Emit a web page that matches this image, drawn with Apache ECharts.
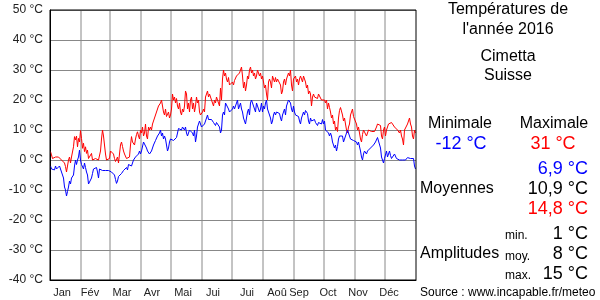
<!DOCTYPE html>
<html>
<head>
<meta charset="utf-8">
<script src="https://cdn.jsdelivr.net/npm/echarts@6/dist/echarts.min.js"></script>
<style>html,body{margin:0;padding:0;background:#fff}#c{width:600px;height:300px}</style>
</head>
<body>
<div id="c"></div>
<script>
// ---- data ----
const monthNames = ['Jan','Fév','Mar','Avr','Mai','Jui','Jui','Aoû','Sep','Oct','Nov','Déc'];
const monthStartDays = [31,60,91,121,152,182,213,244,274,305,335];
const yTicks = [-40,-30,-20,-10,0,10,20,30,40,50];

const tMax = [
2.8,1.7,0.5,0,0.2,1,0.8,0.6,1,0.8,
0.5,0,0.5,0.6,-1,-2.2,-4,-3.5,0,1,
-1,1,0.5,4.4,7.8,6.7,8,4.4,7.2,6,
9.8,7.2,3.9,5.6,2.8,4.4,2.2,3.3,0.5,0,
1.1,2.2,0,0.2,-0.5,0.5,0,0.2,0,0.5,
3,7,10,8,5,2,0,-0.5,0,0.5,
3,2.5,3.5,2,0.5,-0.5,0,1,-1,2,
5,6,4.5,3,2,1.5,0.5,0,0.5,1,
5,7.8,6,6.5,5,7,8.5,9.4,8,7,
10,9,11,8,9,12,8,7,11,10,
11,10,12,13,14,15,16,17,18,17.5,
19,20,18,16,15,17,14.5,15,16,14,
15,17,22,20,21,19,20.5,18,17,19,
16,15,17,16,18,23,22,17,19,16,
20,21,17,19,16,18,21,19,20,16,
15,14.5,16,17,16,21,22,23,21,22,
21,20.5,19,18,20,19,21,20,19.5,18,
24,20,27,30,28,29,27,26,27.5,25,
24.5,25.5,26,25,26.5,27,28,27.5,28,29,
30,31,28,24,26,23,25,28,27,30,
31,29,30,28,29,27,28,30,29,28,
29,27,28,26,24,25,22,20,26,27,
26,24,28,27,26,27.5,26,27,27.5,27,
25,22,23,26,27,25,27,28,29,28,
30,25,23,27,27,28,26,27,25,27,
28,27,26,28,27,26,24,25,22,23,
22,18,21,22,21,21.5,21,20.5,22,22.5,
21.5,20,20.5,19.5,20,19,20,17,19,17.5,
16,14,15,12,13,10,11,9.5,14,16.5,
17.5,18,15,13,14,12,10,9,11,12,
15,16,17,14.5,14,14,12,10,11,9,
7,6,8.5,10,9.5,10,8,9,10,9.5,
10,9.5,10,10,9.5,10,11,12,12,12,
11.5,8,7,10,11,8,10,11,12,11.5,
12,12.5,13,12,11,11.5,11,10,9.5,9,
10,8,7,5,10,10,9.5,12,13,14,
12,11,8,7,10,9
];

const tMin = [
-2,-3,-3,-2.5,-3.3,-2,-3,-2.5,-3,-2,
-3,-3.5,-5,-6,-9,-10,-12,-10.5,-9,-7,
-8,-6,-6.5,-5,-2,0,-1.5,0,1,3.3,
0,-1.5,-2,-3,-1,-2.5,-4,-5,-8,-8.5,
-8,-6,-4.5,-3,-2.5,-3.5,-2.5,-4,-6,-3,
-2.5,-3,-3.5,-3,-3.3,-3.5,-3,-3.5,-3.5,-3,
-3.5,-4,-3.5,-4,-5,-6.5,-7.8,-7,-5.5,-5,
-5.5,-4.5,-4,-3.5,-3,-3,-2.5,-3.3,-1.5,-1.5,
-1,-2,-1.5,0,-0.5,1,0.5,1,2,3,
2,3,2.5,6,5.5,6,4,3,2.5,2,
2,3,4,5,5.5,6.5,7,8,8.5,9,
10,8,9,7,8,7,5,3,4,6,
7,7.5,7,6.5,7,7,7.5,9,10.5,11,
10.5,10,11,10.5,10,11,9,8,7.5,10,
10.5,10,9,8,10,6,8,11,12,13,
12,11,10.5,11.5,12,13,14,15,13.5,14,
13,13.5,13,12.5,12,11.5,12.5,12,13,11,
9,10,15,16,15,19,18.5,19,17,16,
16.5,16,17,18,17,18,19,20,17,18,
19,17,16,14,13,12,14,16,17,15,
19,20,19,18,17,16,19,18,17,16,
17,19,16,18,17,19,20,17,16,16.5,
14,12,13,15,16,15,16,16.5,16,15.5,
14,13,15,16,17,15,18,19,20,19.5,
19,17,16,18,16,15,15.5,15,14.5,13,
12,14,15,16,15,16.5,16,15.5,13,12,
14,13,12.5,13,13.5,12.5,12,11.5,12.5,12,
13,12,13.5,12,13,10,10,9.5,9,8,
9,8,6,5,4,5,3,4.5,7,8,
8.5,7.5,8,6,6.5,6,9,10,9.5,8,
7,7.5,7,6.5,7,6.5,6,5,6,5.5,
3,1,0,2,3,2.5,2,3,3,2.5,
4,4.5,4,5,5.5,6,6,7.5,8,7,
4,1,0,-1,0.5,0,3,1,2,3,
1.5,0.5,0,1,2,1.5,0.5,0,0,0,
0,0,0,0.5,0,0,0.5,0.8,1,0.5,
0.5,0,0,0.5,-2,-3
];

const titleLines = ['Températures de', "l'année 2016"];
const placeLines = ['Cimetta', 'Suisse'];
const statMin = '-12 °C', statMax = '31 °C';
const meanMin = '6,9 °C', meanAll = '10,9 °C', meanMax = '14,8 °C';
const ampMin = '1 °C', ampMean = '8 °C', ampMax = '15 °C';
const sourceText = 'Source : www.incapable.fr/meteo';

// ---- layout (not data) ----
const monthLabelAt = [12,40,72,102,133,163,197,227,249,278,308,339];

const FONT = 'Liberation Sans, Arial, sans-serif';
const maxPts = tMax.map((v, i) => [i + 0.5, v]);
const minPts = tMin.map((v, i) => [i + 0.5, v]);
const yLo = yTicks[0], yHi = yTicks[yTicks.length - 1];

function txt(text, x, y, size, color, align) {
  return { type: 'text', x: x, y: y, silent: true,
    style: { text: text, font: size + 'px ' + FONT, fill: color, align: align || 'center', verticalAlign: 'middle' } };
}

const monthGridSeries = monthStartDays.map(d => ({
  type: 'line', data: [[d, yLo], [d, yHi]], showSymbol: false, symbol: 'none', silent: true,
  lineStyle: { color: '#888', width: 1 }, itemStyle: { color: '#888' }, z: 1
}));

const chart = echarts.init(document.getElementById('c'), null, { renderer: 'canvas' });
chart.setOption({
  animation: false,
  backgroundColor: '#fff',
  grid: { left: 50, top: 10, width: 366, height: 270, show: true, borderColor: '#000', borderWidth: 1, backgroundColor: 'transparent', z: 5 },
  xAxis: {
    type: 'value', min: 0, max: 366,
    axisLine: { show: true, onZero: false, lineStyle: { color: '#000', width: 1 } },
    axisTick: { show: false },
    splitLine: { show: false },
    axisLabel: {
      customValues: monthLabelAt,
      formatter: (v) => { const k = monthLabelAt.indexOf(Math.round(v)); return k >= 0 ? monthNames[k] : ''; },
      color: '#222', fontSize: 11, fontFamily: FONT, margin: 7, showMinLabel: true, showMaxLabel: true, hideOverlap: false
    }
  },
  yAxis: {
    type: 'value', min: yLo, max: yHi, interval: 10,
    axisLine: { show: true, lineStyle: { color: '#000', width: 1 } },
    axisTick: { show: false },
    splitLine: { show: true, lineStyle: { color: '#888', width: 1 } },
    axisLabel: { formatter: '{value} °C', color: '#222', fontSize: 12, fontFamily: FONT, margin: 7 }
  },
  series: monthGridSeries.concat([
    { type: 'line', data: maxPts, showSymbol: false, symbol: 'none', lineStyle: { color: '#ff0000', width: 1 }, itemStyle: { color: '#ff0000' }, z: 3 },
    { type: 'line', data: minPts, showSymbol: false, symbol: 'none', lineStyle: { color: '#0000ff', width: 1 }, itemStyle: { color: '#0000ff' }, z: 4 }
  ]),
  graphic: [
    txt(titleLines[0], 508, 10, 16, '#000'),
    txt(titleLines[1], 508, 30, 16, '#000'),
    txt(placeLines[0], 508, 57, 16, '#000'),
    txt(placeLines[1], 508, 76, 16, '#000'),
    txt('Minimale', 460, 124, 16, '#000'),
    txt('Maximale', 554, 124, 16, '#000'),
    txt(statMin, 461, 144, 18, '#0000ff'),
    txt(statMax, 553, 144, 18, '#ff0000'),
    txt(meanMin, 588, 169, 18, '#0000ff', 'right'),
    txt('Moyennes', 420, 189, 16, '#000', 'left'),
    txt(meanAll, 588, 189, 18, '#000', 'right'),
    txt(meanMax, 588, 209, 18, '#ff0000', 'right'),
    txt('min.', 505, 236, 12, '#000', 'left'),
    txt(ampMin, 588, 234, 18, '#000', 'right'),
    txt('Amplitudes', 420, 254, 16, '#000', 'left'),
    txt('moy.', 505, 256.5, 12, '#000', 'left'),
    txt(ampMean, 588, 254, 18, '#000', 'right'),
    txt('max.', 505, 276, 12, '#000', 'left'),
    txt(ampMax, 588, 274, 18, '#000', 'right'),
    txt(sourceText, 420, 293, 12, '#000', 'left')
  ]
});
</script>
</body>
</html>
